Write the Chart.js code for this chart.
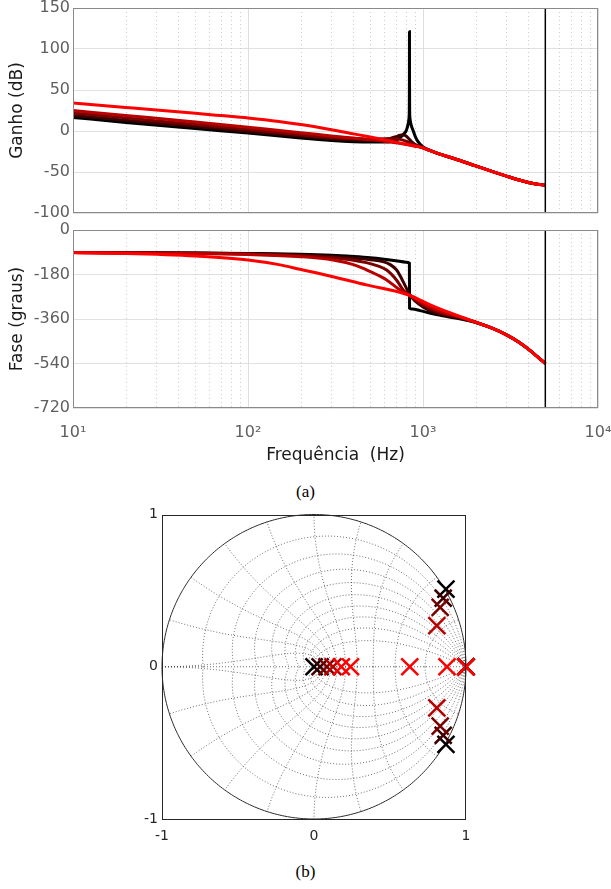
<!DOCTYPE html>
<html><head><meta charset="utf-8">
<script src="https://cdn.jsdelivr.net/npm/chart.js@4.4.0/dist/chart.umd.min.js"></script>
<style>
html,body{margin:0;padding:0;background:#fff;}
body{width:611px;height:889px;position:relative;overflow:hidden;}
canvas{position:absolute;left:0;}
.cap{position:absolute;left:0;width:611px;text-align:center;font-family:'Liberation Serif','DejaVu Serif',serif;font-size:17px;line-height:20px;color:#000;}
</style></head><body>
<canvas id="gain" width="611" height="222" style="top:0"></canvas>
<canvas id="phase" width="611" height="250" style="top:222px"></canvas>
<div class="cap" style="top:482px">(a)</div>
<canvas id="pz" width="611" height="360" style="top:500px"></canvas>
<div class="cap" style="top:862px">(b)</div>
<script>
// ---------- data ----------
const seriesNames  = ['k0','k1','k2','k3','k4'];
const seriesColors = ['#000000','#3d0000','#7a0000','#b80000','#ff0000'];

const decades      = [10,100,1000,10000];
const decadeLabels = ['10¹','10²','10³','10⁴'];
const minorTicks   = [20,30,40,50,60,70,80,90,200,300,400,500,600,700,800,900,2000,3000,4000,5000,6000,7000,8000,9000];
const gainTicks    = [-100,-50,0,50,100,150];
const phaseTicks   = [-720,-540,-360,-180,0];
const pzTicks      = [-1,0,1];
const nyquistHz    = 5000;

// gain (dB)
const gainF0 = [10,20,50,100,200,300,400,500,600,700,750,780,800,815,825,832,835,836.5,837,837.5,839,842,850,862,880,900,930,1000,1100,1200,1500,2000,2500,3000,3500,4000,4500,5000];
const gain0  = [16.5,10.5,3,-2.5,-8.5,-11.5,-13,-13.5,-13.5,-11.5,-7,-3,0,5,10,16,25,60,121,60,25,16,10,5,0,-6,-12,-19.5,-23.5,-27,-33.5,-42.5,-49.5,-55,-59.5,-62.8,-65,-66];
const gainF1 = [10,20,50,100,200,300,400,500,600,650,700,740,770,800,830,870,920,1000,1100,1200,1500,2000,2500,3000,3500,4000,4500,5000];
const gain1  = [19,13,5.5,-0.5,-6.5,-9.5,-11,-11.5,-10.5,-9,-7,-5,-4.5,-6,-9.5,-14,-17.5,-20.5,-24,-27,-33.5,-42.5,-49.5,-55,-59.5,-62.8,-65,-66];
const gainF2 = [10,20,50,100,200,300,400,500,600,700,750,800,900,1000,1100,1200,1500,2000,2500,3000,3500,4000,4500,5000];
const gain2  = [22,16,8,2,-4.5,-8,-9.5,-10,-9.5,-9.5,-10.5,-12.5,-17,-20.5,-24,-27,-33.5,-42.5,-49.5,-55,-59.5,-62.8,-65,-66];
const gainF3 = [10,20,50,100,200,300,400,500,600,700,800,900,1000,1100,1200,1500,2000,2500,3000,3500,4000,4500,5000];
const gain3  = [25,19,11,4.5,-2,-6,-8.5,-10.5,-12.5,-14.5,-16.5,-18.5,-20.5,-24,-27,-33.5,-42.5,-49.5,-55,-59.5,-62.8,-65,-66];
const gainF4 = [10,20,30,50,70,100,150,200,300,400,500,640,800,1000,1100,1200,1500,2000,2500,3000,3500,4000,4500,5000];
const gain4  = [34,28.8,25.7,21.6,18.8,15.8,11.6,7.8,1.5,-3.5,-7.3,-11.8,-16,-20.5,-24,-27,-33.5,-42.5,-49.5,-55,-59.5,-62.8,-65,-66];

// phase (degrees)
const phaseF0 = [10,20,50,100,200,300,400,500,600,700,800,836,838,870,960,1125,1300,1500,1750,2000,2500,3000,3500,4000,4500,5000];
const phase0  = [-91,-91.5,-93,-95,-98,-102,-107,-112,-118,-124,-130,-134,-316,-320,-326,-338,-347,-355,-364,-374,-398,-424,-452,-482,-512,-540];
const phaseF1 = [10,50,100,200,300,400,500,590,650,705,740,770,800,820,843,900,1000,1125,1300,1500,1750,2000,2500,3000,3500,4000,4500,5000];
const phase1  = [-91,-93.5,-96,-101,-107,-113,-120,-128,-140,-161,-185,-209,-232,-249,-263,-287,-311,-330,-344,-352,-362,-373,-398,-424,-452,-482,-512,-540];
const phaseF2 = [10,50,100,200,300,400,475,550,620,705,783,843,900,1000,1125,1300,1500,1750,2000,2500,3000,3500,4000,4500,5000];
const phase2  = [-91,-94,-97.5,-104,-112,-122,-132,-145,-162,-202,-249,-265,-282,-303,-322,-338,-348,-360,-373,-398,-424,-452,-482,-512,-540];
const phaseF3 = [10,50,100,200,306,400,475,550,620,736,843,1000,1125,1300,1500,1750,2000,2500,3000,3500,4000,4500,5000];
const phase3  = [-91.5,-95,-99,-108,-121,-140,-161,-182,-202,-242,-265,-297,-315,-332,-345,-359,-373,-398,-424,-452,-482,-512,-540];
const phaseF4 = [10,20,50,100,150,198,306,475,736,843,1000,1125,1300,1500,1750,2000,2500,3000,3500,4000,4500,5000];
const phase4  = [-92,-95,-105,-121,-140,-159,-189,-222,-252,-265,-289,-306,-324,-340,-358,-373,-398,-424,-452,-482,-512,-540];

// poles (z-plane)
const poleRe0 = [0, 0.868, 0.868, 1];     const poleIm0 = [0, 0.51, -0.51, 0];
const poleRe1 = [0.04, 0.85, 0.85, 1];    const poleIm1 = [0, 0.45, -0.45, 0];
const poleRe2 = [0.085, 0.83, 0.83, 1];   const poleIm2 = [0, 0.39, -0.39, 0];
const poleRe3 = [0.125, 0.808, 0.808, 1]; const poleIm3 = [0, 0.27, -0.27, 0];
const poleRe4 = [0.18, 0.24, 0.63, 0.875, 1]; const poleIm4 = [0, 0, 0, 0, 0];

// ---------- helpers ----------
const pts = (xs, ys) => xs.map((x, i) => ({x, y: ys[i]}));
const gainSets  = [[gainF0,gain0],[gainF1,gain1],[gainF2,gain2],[gainF3,gain3],[gainF4,gain4]];
const phaseSets = [[phaseF0,phase0],[phaseF1,phase1],[phaseF2,phase2],[phaseF3,phase3],[phaseF4,phase4]];
const poleSets  = [[poleRe0,poleIm0],[poleRe1,poleIm1],[poleRe2,poleIm2],[poleRe3,poleIm3],[poleRe4,poleIm4]];

const FONT = "'DejaVu Sans', sans-serif";
const tickGrey = '#5f5f5f';
const noPad = s => { s.paddingLeft = 0; s.paddingRight = 0; s.paddingTop = 0; s.paddingBottom = 0; };

function curveSets(sets, ymin, ymax){
  const ds = [{
    data: [{x: nyquistHz, y: ymin}, {x: nyquistHz, y: ymax}],
    borderColor: '#000', borderWidth: 1.5, pointRadius: 0, tension: 0
  }];
  for (let k = sets.length - 1; k >= 0; k--) {
    ds.push({
      data: pts(sets[k][0], sets[k][1]),
      borderColor: seriesColors[k], borderWidth: 3, pointRadius: 0,
      cubicInterpolationMode: 'monotone'
    });
  }
  return ds;
}

const frame = (color) => ({
  id: 'frame',
  afterDraw(chart){
    const {ctx, chartArea: a} = chart;
    ctx.save();
    ctx.strokeStyle = color; ctx.lineWidth = 1;
    ctx.strokeRect(Math.round(a.left) + 0.5, Math.round(a.top) + 0.5, Math.round(a.right - a.left) - 1, Math.round(a.bottom - a.top) - 1);
    ctx.restore();
  }
});

const logGrid = {
  id: 'logGrid',
  beforeDatasetsDraw(chart){
    const {ctx, chartArea: a, scales: {x}} = chart;
    ctx.save();
    ctx.lineWidth = 1;
    ctx.strokeStyle = '#cccccc';
    ctx.setLineDash([1, 3]);
    for (const v of minorTicks) {
      const p = Math.round(x.getPixelForValue(v)) + 0.5;
      ctx.beginPath(); ctx.moveTo(p, a.top); ctx.lineTo(p, a.bottom); ctx.stroke();
    }
    ctx.setLineDash([]);
    ctx.strokeStyle = '#dedede';
    for (const v of decades) {
      const p = Math.round(x.getPixelForValue(v)) + 0.5;
      ctx.beginPath(); ctx.moveTo(p, a.top); ctx.lineTo(p, a.bottom); ctx.stroke();
    }
    ctx.restore();
  }
};

function xAxis(showLabels){
  return {
    type: 'logarithmic', min: 10, max: 10000,
    afterBuildTicks: s => { s.ticks = decades.concat(minorTicks).sort((a,b)=>a-b).map(v => ({value: v, major: decades.includes(v)})); },
    grid: {display: false, drawTicks: false}, border: {display: false},
    ticks: {
      display: showLabels, autoSkip: false, maxRotation: 0, padding: 15,
      color: tickGrey, font: {family: FONT, size: 16},
      callback: (v) => { const i = decades.indexOf(v); return i >= 0 ? decadeLabels[i] : ''; }
    },
    title: {display: showLabels, text: 'Frequência  (Hz)', color: '#1a1a1a', font: {family: FONT, size: 17}, padding: {top: 0, bottom: 6}},
    afterFit: s => { s.height = showLabels ? 64 : 0; noPad(s); }
  };
}

function yAxis(ticksArr, title){
  return {
    min: ticksArr[0], max: ticksArr[ticksArr.length - 1],
    afterBuildTicks: s => { s.ticks = ticksArr.map(v => ({value: v})); },
    grid: {color: '#e1e1e1', drawTicks: false}, border: {display: false},
    ticks: {color: tickGrey, font: {family: FONT, size: 16}, padding: 3, callback: v => String(v)},
    title: {display: true, text: title, color: '#1a1a1a', font: {family: FONT, size: 17}, padding: {top: 7, bottom: 0}},
    afterFit: s => { s.width = 73; noPad(s); }
  };
}

const common = {
  responsive: false, animation: false, events: [],
  plugins: {legend: {display: false}, tooltip: {enabled: false}}
};

new Chart(document.getElementById('gain'), {
  type: 'line',
  data: {datasets: curveSets(gainSets, -100, 150)},
  options: Object.assign({}, common, {
    layout: {padding: {left: 0, right: 13, top: 8, bottom: 9}},
    scales: {x: xAxis(false), y: yAxis(gainTicks, 'Ganho (dB)')}
  }),
  plugins: [logGrid, frame('#8a8a8a')]
});

new Chart(document.getElementById('phase'), {
  type: 'line',
  data: {datasets: curveSets(phaseSets, -720, 0)},
  options: Object.assign({}, common, {
    layout: {padding: {left: 0, right: 13, top: 8, bottom: 0}},
    scales: {x: xAxis(true), y: yAxis(phaseTicks, 'Fase (graus)')}
  }),
  plugins: [logGrid, frame('#8a8a8a')]
});

// ---------- z-plane grid ----------
const zGrid = {
  id: 'zGrid',
  beforeDatasetsDraw(chart){
    const {ctx, scales: {x, y}} = chart;
    const P = (re, im) => [x.getPixelForValue(re), y.getPixelForValue(im)];
    const path = (arr) => { ctx.beginPath(); arr.forEach((p, i) => { const q = P(p[0], p[1]); i ? ctx.lineTo(q[0], q[1]) : ctx.moveTo(q[0], q[1]); }); ctx.stroke(); };
    ctx.save();
    ctx.lineWidth = 0.9;
    ctx.strokeStyle = 'rgba(40,40,40,0.75)';
    ctx.setLineDash([1, 2]);
    for (let k = 1; k <= 9; k++) {
      const zeta = k / 10, m = zeta / Math.sqrt(1 - zeta * zeta);
      const up = [];
      for (let i = 0; i <= 120; i++) { const t = Math.PI * i / 120, r = Math.exp(-m * t); up.push([r * Math.cos(t), r * Math.sin(t)]); }
      path(up); path(up.map(p => [p[0], -p[1]]));
    }
    for (let k = 1; k <= 10; k++) {
      const wn = k * Math.PI / 10, up = [];
      for (let i = 0; i <= 60; i++) { const ph = (Math.PI / 2) * i / 60, r = Math.exp(-wn * Math.cos(ph)), a = wn * Math.sin(ph); up.push([r * Math.cos(a), r * Math.sin(a)]); }
      path(up); path(up.map(p => [p[0], -p[1]]));
    }
    path([[-1, 0], [1, 0]]);
    ctx.setLineDash([]);
    ctx.strokeStyle = '#2a2a2a'; ctx.lineWidth = 1;
    const c = [];
    for (let i = 0; i <= 360; i++) { const t = 2 * Math.PI * i / 360; c.push([Math.cos(t), Math.sin(t)]); }
    path(c);
    ctx.restore();
  }
};

const pzSets = [];
for (let k = poleSets.length - 1; k >= 0; k--) {
  pzSets.push({
    data: pts(poleSets[k][0], poleSets[k][1]),
    showLine: false, pointStyle: 'crossRot', pointRadius: 12, pointBorderWidth: 2.5,
    borderColor: seriesColors[k], backgroundColor: seriesColors[k], clip: false
  });
}

const pzAxis = (isX) => ({
  type: 'linear', min: -1, max: 1,
  afterBuildTicks: s => { s.ticks = pzTicks.map(v => ({value: v})); },
  grid: {display: false, drawTicks: false}, border: {display: false},
  ticks: {color: '#262626', font: {family: FONT, size: 14}, padding: isX ? 9 : 4, callback: v => String(v)},
  afterFit: s => { if (isX) s.height = 41; else s.width = 162; noPad(s); }
});

new Chart(document.getElementById('pz'), {
  type: 'scatter',
  data: {datasets: pzSets},
  options: Object.assign({}, common, {
    layout: {padding: {left: 0, right: 145, top: 14, bottom: 0}},
    scales: {x: pzAxis(true), y: pzAxis(false)}
  }),
  plugins: [zGrid, frame('#262626')]
});
</script>
</body></html>
